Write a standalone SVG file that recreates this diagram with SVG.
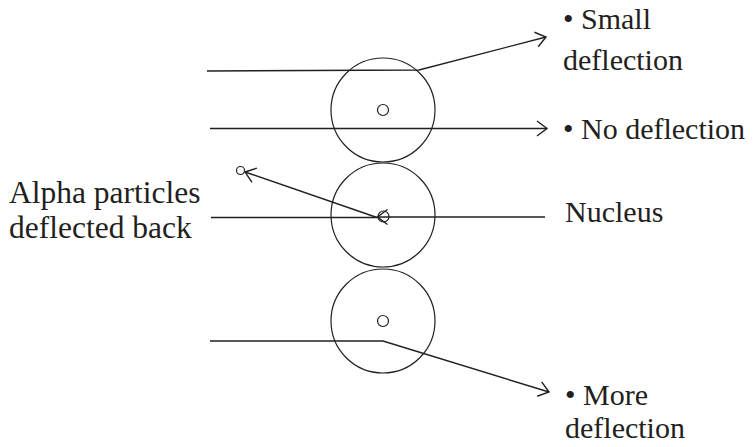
<svg xmlns="http://www.w3.org/2000/svg" width="754" height="447" viewBox="0 0 754 447">
<style>
.ln{fill:none;stroke:#231f20;stroke-width:1.4}
.c{fill:none;stroke:#231f20;stroke-width:1.2}
.t{font-family:"Liberation Serif","Times New Roman",serif;font-size:30px;fill:#231f20}
</style>
<defs>
<marker id="ah" markerUnits="userSpaceOnUse" markerWidth="20" markerHeight="20" refX="12" refY="8" orient="auto" overflow="visible">
<path d="M2,0.5 L12,8 L2,15.5" fill="none" stroke="#231f20" stroke-width="1.4"/>
</marker>
</defs>
<rect width="754" height="447" fill="#fff"/>
<g id="atom1"><circle class="c" cx="383" cy="110" r="52"/><circle class="c" cx="383" cy="110" r="5.5"/></g>
<g id="atom2"><circle class="c" cx="383" cy="215" r="52"/><circle class="c" cx="383.5" cy="216.5" r="5.5"/></g>
<g id="atom3"><circle class="c" cx="383" cy="321" r="52"/><circle class="c" cx="383" cy="321" r="5.5"/></g>
<g id="connectors">
<polyline class="ln" points="207,71 419,70 546,37" marker-end="url(#ah)"/>
<line class="ln" x1="210" y1="128.5" x2="547" y2="128.5" marker-end="url(#ah)"/>
<line class="ln" x1="211" y1="217.5" x2="377" y2="217.5"/>
<line class="ln" x1="377" y1="217.5" x2="245" y2="172" marker-end="url(#ah)"/>
<circle class="c" cx="240.5" cy="170.5" r="4"/>
<line class="ln" x1="545" y1="217" x2="377.5" y2="217" marker-end="url(#ah)"/>
<polyline class="ln" points="210,341 383,341 549,392" marker-end="url(#ah)"/>
</g>
<g id="labels">
<text class="t" x="563" y="29">• Small</text>
<text class="t" x="563" y="70">deflection</text>
<text class="t" x="563" y="139">• No deflection</text>
<text class="t" x="9" y="203" style="font-size:31.5px">Alpha particles</text>
<text class="t" x="9" y="238" style="font-size:31.5px">deflected back</text>
<text class="t" x="565" y="222">Nucleus</text>
<text class="t" x="565" y="405">• More</text>
<text class="t" x="565" y="438">deflection</text>
</g>
</svg>
